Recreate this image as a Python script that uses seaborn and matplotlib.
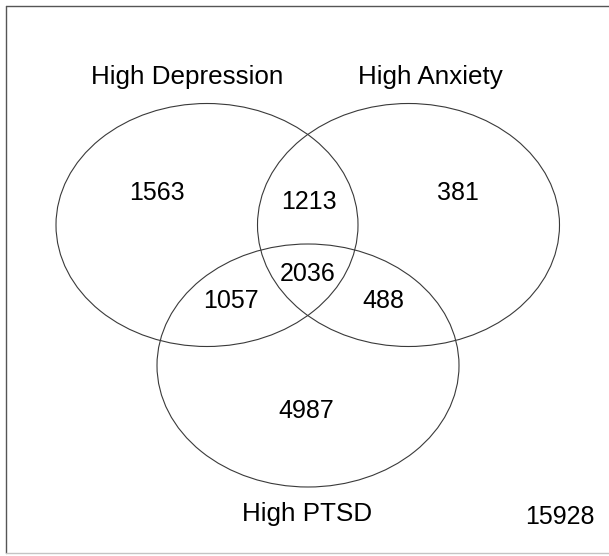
import matplotlib
matplotlib.use("Agg")
import matplotlib.pyplot as plt
from matplotlib.patches import Ellipse
import seaborn as sns

# Venn diagram data: set names and counts in each region
set_names = ["High Depression", "High Anxiety", "High PTSD"]
region_keys = ["D", "A", "DA", "DAP", "DP", "AP", "P"]
region_counts = [1563, 381, 1213, 2036, 1057, 488, 4987]
outside_count = 15928

# Layout in pixel space (609 x 556 canvas, y downward)
W, H = 609, 556
ell_w, ell_h = 302, 243
ell_centers = [(207, 225), (408.5, 225), (308, 365.5)]
label_pos = [(187.5, 77), (430, 77), (307.5, 514.5)]
region_pos = {
    "D": (156.5, 193), "A": (457.5, 193), "DA": (308.5, 202),
    "DAP": (307.5, 274), "DP": (231, 301.5), "AP": (383.5, 301.5),
    "P": (306, 411),
}
outside_pos = (560, 517)

sns.set_theme(style="white")
plt.rcParams["font.family"] = ["Liberation Sans", "DejaVu Sans"]

fig = plt.figure(figsize=(W / 100, H / 100), dpi=100)
ax = fig.add_axes([0, 0, 1, 1])
ax.set_xlim(0, W)
ax.set_ylim(H, 0)
ax.axis("off")

# frame: dark left/top, light bottom
ax.plot([5.5, 5.5], [5.5, 553], color="#555555", lw=1.0)
ax.plot([5.5, W], [5.5, 5.5], color="#555555", lw=1.0)
ax.plot([5.5, W], [553, 553], color="#c4c4c4", lw=1.0)

for (cx, cy) in ell_centers:
    ax.add_patch(Ellipse((cx, cy), ell_w, ell_h, fill=False,
                         edgecolor="#3a3a3a", lw=0.8))

for name, (x, y) in zip(set_names, label_pos):
    ax.text(x, y, name, ha="center", va="center", fontsize=18.7, color="black")

for key, count in zip(region_keys, region_counts):
    x, y = region_pos[key]
    ax.text(x, y, str(count), ha="center", va="center", fontsize=18, color="black")

ax.text(outside_pos[0], outside_pos[1], str(outside_count), ha="center",
        va="center", fontsize=18, color="black")

fig.savefig("out.png", dpi=100, facecolor="white")
